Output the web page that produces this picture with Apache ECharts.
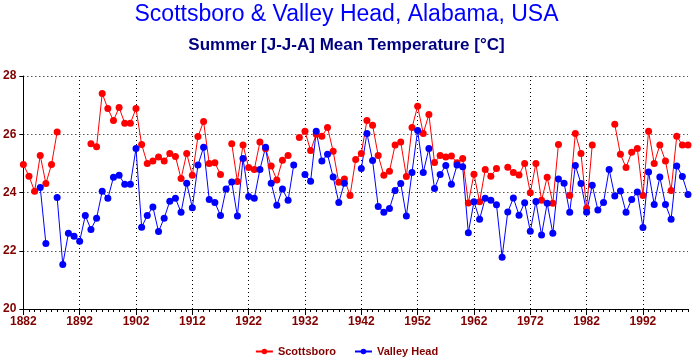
<!DOCTYPE html>
<html>
<head>
<meta charset="utf-8">
<script src="https://cdn.jsdelivr.net/npm/echarts@6/dist/echarts.min.js"></script>
<style>
html,body{margin:0;padding:0;background:#ffffff;}
#chart{width:693px;height:358px;}
</style>
</head>
<body>
<div id="chart"></div>
<script>
const titleText = 'Scottsboro & Valley Head, Alabama, USA';
const subtitleText = 'Summer [J-J-A] Mean Temperature [°C]';
const firstYear = 1882;
const lastYear = 2000;
const years = [];
for (let y = firstYear; y <= lastYear; y++) years.push(String(y));
const yTicks = [20, 22, 24, 26, 28];

// 1882 .. 2000
const scottsboro = [
  24.96, 24.56, 24.04, 25.27, 24.31, 24.96, 26.08, null, null, null,   // 1882-1891
  null, null, 25.67, 25.57, 27.40, 26.88, 26.47, 26.92, 26.38, 26.38,  // 1892-1901
  26.88, 25.65, 25.00, 25.08, 25.22, 25.08, 25.34, 25.24, 24.48, 25.34, // 1902-1911
  24.59, 25.92, 26.44, 25.00, 25.02, 24.62, null, 25.67, 24.38, 25.63,  // 1912-1921
  24.86, 24.79, 25.73, 25.50, 24.91, 24.43, 25.11, 25.27, null, 25.89,  // 1922-1931
  26.10, 25.44, 26.00, 25.93, 26.23, 25.42, 24.35, 24.46, 23.90, 25.13, // 1932-1941
  25.34, 26.47, 26.31, 25.27, 24.59, 24.73, 25.63, 25.73, 24.55, 26.23, // 1942-1951
  26.96, 26.03, 26.68, 25.03, 25.27, 25.22, 25.25, 25.02, 25.17, 23.64, // 1952-1961
  24.63, 23.68, 24.79, 24.56, 24.82, null, 24.87, 24.69, 24.60, 25.00,  // 1962-1971
  23.99, 25.00, 23.73, 24.52, 23.63, 25.65, null, 23.90, 26.03, 25.34,  // 1972-1981
  23.46, 25.63, null, null, null, 26.34, 25.31, 24.86, 25.38, 25.51,    // 1982-1991
  23.90, 26.10, 25.00, 25.63, 25.08, 24.07, 25.93, 25.63, 25.63         // 1992-2000
];
const valleyHead = [
  null, null, null, 24.17, 22.25, null, 23.83, 21.53, 22.60, 22.50,     // 1882-1891
  22.33, 23.21, 22.73, 23.12, 24.04, 23.80, 24.52, 24.59, 24.28, 24.28, // 1892-1901
  25.51, 22.81, 23.21, 23.50, 22.66, 23.12, 23.70, 23.80, 23.32, 24.32, // 1902-1911
  23.48, 24.94, 25.55, 23.76, 23.66, 23.21, 24.12, 24.36, 23.19, 25.17, // 1912-1921
  23.86, 23.80, 24.79, 25.55, 24.32, 23.56, 24.12, 23.73, 24.94, null,  // 1922-1931
  24.62, 24.39, 26.10, 25.08, 25.31, 24.53, 23.66, 24.32, null, null,   // 1932-1941
  24.82, 26.03, 25.10, 23.52, 23.32, 23.45, 24.07, 24.31, 23.19, 24.69, // 1942-1951
  26.13, 24.69, 25.51, 24.14, 24.62, 24.93, 24.28, 24.94, 24.88, 22.62, // 1952-1961
  23.68, 23.08, 23.80, 23.73, 23.58, 21.78, 23.33, 23.81, 23.22, 23.65, // 1962-1971
  22.67, 23.69, 22.54, 23.63, 22.60, 24.46, 24.32, 23.32, 24.93, 24.31, // 1972-1981
  23.32, 24.25, 23.40, 23.66, 24.79, 23.88, 24.05, 23.32, 23.76, 24.02, // 1982-1991
  22.80, 24.70, 23.59, 24.53, 23.59, 23.08, 24.91, 24.55, 23.93         // 1992-2000
];

const FONT = 'Liberation Sans, Arial, sans-serif';
const LABEL = '#800000';

const chart = echarts.init(document.getElementById('chart'), null, {renderer: 'canvas'});
chart.setOption({
  backgroundColor: '#ffffff',
  animation: false,
  title: [
    {text: titleText, left: 'center', top: 3, padding: 0,
     textStyle: {fontFamily: FONT, fontSize: 23, fontWeight: 'normal', color: '#0000ff'}},
    {text: subtitleText, left: 'center', top: 37, padding: 0,
     textStyle: {fontFamily: FONT, fontSize: 17, fontWeight: 'bold', color: '#000080'}}
  ],
  legend: {
    bottom: 1, left: 'center', padding: 0,
    itemWidth: 17, itemHeight: 7, itemGap: 18,
    textStyle: {fontFamily: FONT, fontSize: 11, fontWeight: 'bold', color: LABEL},
    data: ['Scottsboro', 'Valley Head']
  },
  grid: {left: 19, right: 5, top: 76, bottom: 49, containLabel: false},
  xAxis: [
    {
      type: 'category', data: years, boundaryGap: false, position: 'bottom',
      axisLine: {show: true, lineStyle: {color: '#000000', width: 1}},
      axisTick: {show: true, interval: 0, length: 3, lineStyle: {color: '#000000'}},
      axisLabel: {show: true, interval: 9, margin: 7, fontFamily: FONT, fontSize: 12, fontWeight: 'bold', color: LABEL},
      splitLine: {show: true, interval: 9, lineStyle: {color: '#000000', type: [1, 3], width: 1}}
    },
    {
      type: 'category', data: years, boundaryGap: false, position: 'bottom',
      axisLine: {show: false},
      axisTick: {show: true, interval: 9, length: 6, lineStyle: {color: '#000000'}},
      axisLabel: {show: false},
      splitLine: {show: false}
    }
  ],
  yAxis: {
    type: 'value', min: yTicks[0], max: yTicks[yTicks.length - 1], interval: 2,
    axisLine: {show: true, lineStyle: {color: '#000000', width: 1}},
    axisTick: {show: true, length: 4, lineStyle: {color: '#000000'}},
    axisLabel: {margin: 7, fontFamily: FONT, fontSize: 12, fontWeight: 'bold', color: LABEL},
    splitLine: {show: true, lineStyle: {color: '#000000', type: [1, 3], width: 1}}
  },
  series: [
    {
      name: 'Scottsboro', type: 'line', xAxisIndex: 0, data: scottsboro,
      connectNulls: false, symbol: 'circle', symbolSize: 7, showSymbol: true, showAllSymbol: true,
      itemStyle: {color: '#ff0000'}, lineStyle: {color: '#ff0000', width: 1}
    },
    {
      name: 'Valley Head', type: 'line', xAxisIndex: 0, data: valleyHead,
      connectNulls: false, symbol: 'circle', symbolSize: 7, showSymbol: true, showAllSymbol: true,
      itemStyle: {color: '#0000ff'}, lineStyle: {color: '#0000ff', width: 1}
    }
  ]
});
</script>
</body>
</html>
